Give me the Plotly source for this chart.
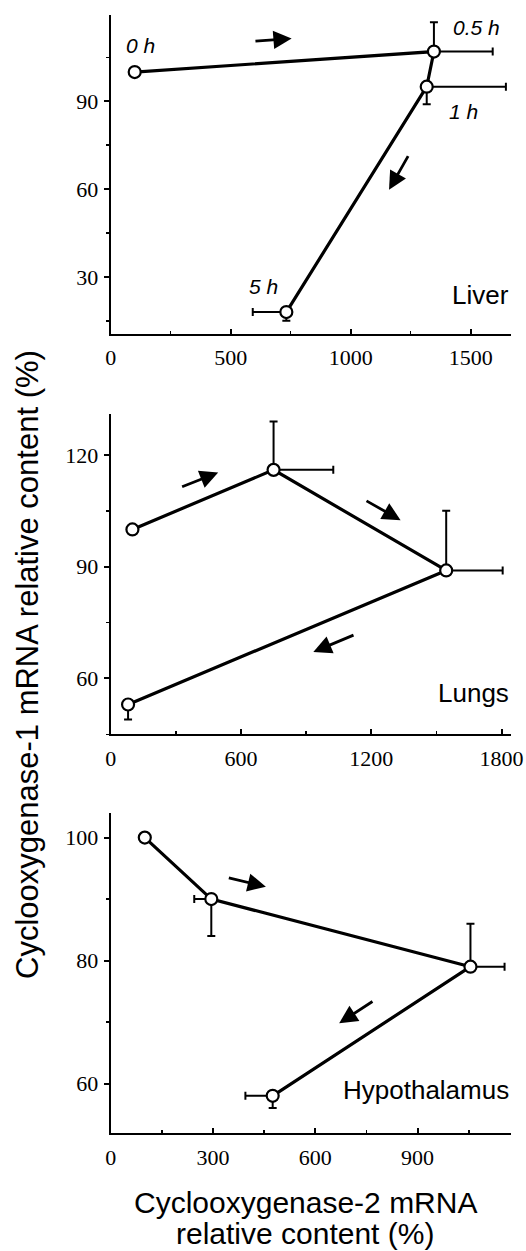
import plotly.graph_objects as go

# ---------------- data ----------------
liver_x = [100, 1347, 1317, 732]
liver_y = [100, 107, 95, 18]
liver_ex_plus = [0, 245, 330, 0]
liver_ex_minus = [0, 0, 0, 140]
liver_ey_plus = [0, 10, 0, 0]
liver_ey_minus = [0, 0, 6, 3]
liver_time_labels = ["0 h", "0.5 h", "1 h", "5 h"]
liver_label_x = [123, 1525, 1469, 636]
liver_label_y = [109.0, 115.2, 86.6, 26.6]

lungs_x = [100, 750, 1545, 80]
lungs_y = [100, 116, 89, 53]
lungs_ex_plus = [0, 275, 260, 0]
lungs_ex_minus = [0, 0, 0, 0]
lungs_ey_plus = [0, 13, 16, 0]
lungs_ey_minus = [0, 0, 0, 4]

hyp_x = [100, 295, 1055, 475]
hyp_y = [100, 90, 79, 58]
hyp_ex_plus = [0, 0, 100, 0]
hyp_ex_minus = [0, 50, 0, 80]
hyp_ey_plus = [0, 0, 7, 0]
hyp_ey_minus = [0, 6, 0, 2]

# arrows: (tail_x, tail_y, head_x, head_y)
liver_arrows = [(597, 110.5, 754, 111.5), (1243, 71.8, 1160, 59.8)]
lungs_arrows = [(322, 111.3, 495, 115.3), (1171, 107.9, 1335, 102.5), (1125, 71.8, 933, 67.1)]
hyp_arrows = [(342, 93.5, 455, 92.0), (772, 73.5, 670, 69.8)]

panel_names = ["Liver", "Lungs", "Hypothalamus"]
panel_name_y = [23.8, 56.0, 58.9]

x_ranges = [[0, 1667], [0, 1842], [0, 1173]]
x_dticks = [500, 600, 300]
y_ranges = [[10.5, 119.5], [45, 131], [51.9, 104]]
y_dticks = [30, 30, 20]

y_title = "Cyclooxygenase-1 mRNA relative content (%)"
x_title_lines = ["Cyclooxygenase-2 mRNA", "relative content (%)"]

# ---------------- layout geometry ----------------
W, H = 526, 1251


def fx(px):
    return px / W


def fy(py):
    return 1 - py / H


x_dom = [fx(110.7), fx(510.7)]
y_px = [(15, 334), (414, 734.3), (813, 1133.3)]

fig = go.Figure()

panels = [
    (liver_x, liver_y, liver_ex_plus, liver_ex_minus, liver_ey_plus, liver_ey_minus, liver_arrows),
    (lungs_x, lungs_y, lungs_ex_plus, lungs_ex_minus, lungs_ey_plus, lungs_ey_minus, lungs_arrows),
    (hyp_x, hyp_y, hyp_ex_plus, hyp_ex_minus, hyp_ey_plus, hyp_ey_minus, hyp_arrows),
]

annotations = []
tick_font = dict(family="Liberation Serif", size=22, color="black")

for i, (px, py, exp, exm, eyp, eym, arrows) in enumerate(panels):
    n = "" if i == 0 else str(i + 1)
    xa, ya = "x" + n, "y" + n
    fig.add_trace(go.Scatter(
        x=px, y=py, xaxis=xa, yaxis=ya, mode="lines+markers",
        line=dict(color="black", width=3.2),
        marker=dict(symbol="circle", size=12, color="white",
                    line=dict(color="black", width=2.2)),
        error_x=dict(type="data", symmetric=False, array=exp, arrayminus=exm,
                     color="black", thickness=2, width=4),
        error_y=dict(type="data", symmetric=False, array=eyp, arrayminus=eym,
                     color="black", thickness=2, width=4),
        showlegend=False, hoverinfo="skip",
    ))
    top, bot = y_px[i]
    fig.layout["xaxis" + n] = dict(
        domain=x_dom, anchor=ya, range=x_ranges[i], dtick=x_dticks[i], tick0=0,
        automargin=False, fixedrange=True,
        showline=True, linecolor="black", linewidth=2, showgrid=False, zeroline=False,
        ticks="inside", ticklen=5, tickwidth=2, tickcolor="black",
        minor=dict(dtick=x_dticks[i] / 2, tick0=0, ticks="inside", ticklen=3,
                   tickwidth=1.5, tickcolor="black", showgrid=False),
        tickfont=tick_font, ticklabelstandoff=3,
    )
    fig.layout["yaxis" + n] = dict(
        domain=[fy(bot), fy(top)], anchor=xa, range=y_ranges[i],
        dtick=y_dticks[i], tick0=0, automargin=False, fixedrange=True,
        showline=True, linecolor="black", linewidth=2, showgrid=False, zeroline=False,
        ticks="outside", ticklen=5, tickwidth=2, tickcolor="black",
        minor=dict(dtick=y_dticks[i] / 2, tick0=0, ticks="outside", ticklen=3,
                   tickwidth=1.5, tickcolor="black", showgrid=False),
        tickfont=tick_font, ticklabelstandoff=1,
    )
    for (tx, ty, hx, hy) in arrows:
        annotations.append(dict(
            x=hx, y=hy, ax=tx, ay=ty, xref=xa, yref=ya, axref=xa, ayref=ya,
            text="", showarrow=True, arrowhead=2, arrowsize=1.3, arrowwidth=2.8,
            arrowcolor="black", standoff=0, startstandoff=0,
        ))
    annotations.append(dict(
        x=1, xref=xa + " domain", y=panel_name_y[i], yref=ya, xanchor="right",
        yanchor="middle", text=panel_names[i], showarrow=False,
        font=dict(family="Liberation Sans", size=26, color="black"),
    ))

for t, lx, ly in zip(liver_time_labels, liver_label_x, liver_label_y):
    annotations.append(dict(
        x=lx, y=ly, xref="x", yref="y", text=t, showarrow=False,
        font=dict(family="Liberation Sans", size=21, color="black", style="italic"),
    ))

annotations.append(dict(
    x=fx(28), y=fy(665), xref="paper", yref="paper", text=y_title,
    textangle=-90, showarrow=False, xanchor="center", yanchor="middle",
    font=dict(family="Liberation Sans", size=31, color="black"),
))
for line_text, line_y in zip(x_title_lines, [1202, 1233]):
    annotations.append(dict(
        x=fx(305), y=fy(line_y), xref="paper", yref="paper", text=line_text,
        showarrow=False, xanchor="center", yanchor="middle",
        font=dict(family="Liberation Sans", size=30, color="black"),
    ))

fig.update_layout(
    width=W, height=H, margin=dict(l=0, r=0, t=0, b=0, autoexpand=False),
    paper_bgcolor="white", plot_bgcolor="white",
    annotations=annotations,
)

fig.write_html(
    "out.html",
    config={"displayModeBar": False, "staticPlot": True},
    post_script="document.body.style.margin='0px';document.body.style.overflow='hidden';",
)
